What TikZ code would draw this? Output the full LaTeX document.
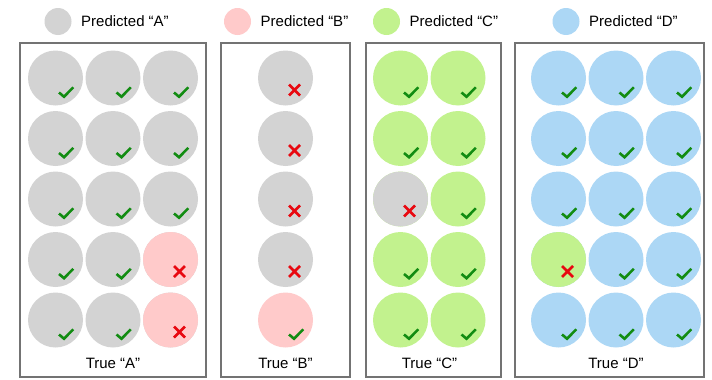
\documentclass[tikz,border=0pt]{standalone}
\usepackage{fontspec}
\setmainfont{Liberation Sans}
\usetikzlibrary{positioning}
\definecolor{predA}{RGB}{211,211,211}
\definecolor{predB}{RGB}{255,202,202}
\definecolor{predC}{RGB}{194,242,142}
\definecolor{predD}{RGB}{172,215,245}
\definecolor{okgreen}{RGB}{18,140,18}
\definecolor{badred}{RGB}{232,8,16}
\tikzset{
  dot/.style={circle,inner sep=0pt,minimum size=55pt},
  legdot/.style={circle,inner sep=0pt,minimum size=27pt},
  truebox/.style={draw=black!55,line width=1.6pt},
  oksign/.style={draw=okgreen,line width=2.6pt},
  badsign/.style={draw=badred,line width=2.6pt},
  caption/.style={font=\fontsize{15}{18}\selectfont}
}
% check or cross at the lower right of a circle
\newcommand{\goodmark}[1]{\draw[oksign] ([shift={(3.5,14.5)}]#1.center)--([shift={(8.5,18.7)}]#1.center)--([shift={(17.8,9.3)}]#1.center);}
\newcommand{\badmark}[1]{\draw[badsign] ([shift={(3.5,6.5)}]#1.center)--([shift={(14.5,17.5)}]#1.center)
  ([shift={(3.5,17.5)}]#1.center)--([shift={(14.5,6.5)}]#1.center);}
\begin{document}
\begin{tikzpicture}[x=1pt,y=-1pt]
	\useasboundingbox (0,0) rectangle (712,380);
	% legend
	\node[legdot,fill=predA] (lA) at (58,21.5) {};
	\node[legdot,fill=predB] (lB) at (237.5,21.5) {};
	\node[legdot,fill=predC] (lC) at (386.5,21.5) {};
	\node[legdot,fill=predD] (lD) at (566,21.5) {};
	\node[caption,right=6pt of lA] (tA) {Predicted “A”};
	\node[caption,right=6pt of lB] (tB) {Predicted “B”};
	\node[caption,right=6pt of lC] (tC) {Predicted “C”};
	\node[caption,right=6pt of lD] (tD) {Predicted “D”};
	% boxes
	\draw[truebox] (20,43) rectangle (206,377);
	\draw[truebox] (221,43) rectangle (350,377);
	\draw[truebox] (366,43) rectangle (501,377);
	\draw[truebox] (515,43) rectangle (704,377);
	% true A
	\foreach \c/\x in {1/55.5,2/113,3/170.5}
		\foreach \r/\y in {1/78,2/138.5,3/199,4/259.5,5/320}
			\node[dot,fill=predA] (a\r\c) at (\x,\y) {};
	\node[dot,fill=predB] (a43) at (170.5,259.5) {};
	\node[dot,fill=predB] (a53) at (170.5,320) {};
	\foreach \n in {a11,a12,a13,a21,a22,a23,a31,a32,a33,a41,a42,a51,a52}
		{\goodmark{\n}}
	\badmark{a43}
	\badmark{a53}
	% true B
	\foreach \r/\y in {1/78,2/138.5,3/199,4/259.5}
		\node[dot,fill=predA] (b\r) at (285.5,\y) {};
	\node[dot,fill=predB] (b5) at (285.5,320) {};
	\foreach \n in {b1,b2,b3,b4}
		{\badmark{\n}}
	\goodmark{b5}
	% true C
	\foreach \c/\x in {1/400.5,2/458}
		\foreach \r/\y in {1/78,2/138.5,3/199,4/259.5,5/320}
			\node[dot,fill=predC] (c\r\c) at (\x,\y) {};
	\node[dot,fill=predA] (c31) at (400.5,199) {};
	\foreach \n in {c11,c12,c21,c22,c32,c41,c42,c51,c52}
		{\goodmark{\n}}
	\badmark{c31}
	% true D
	\foreach \c/\x in {1/558.5,2/616,3/673.5}
		\foreach \r/\y in {1/78,2/138.5,3/199,4/259.5,5/320}
			\node[dot,fill=predD] (d\r\c) at (\x,\y) {};
	\node[dot,fill=predC] (d41) at (558.5,259.5) {};
	\foreach \n in {d11,d12,d13,d21,d22,d23,d31,d32,d33,d42,d43,d51,d52,d53}
		{\goodmark{\n}}
	\badmark{d41}
	% labels
	\node[caption] (trueA) at (113,363) {True “A”};
	\node[caption] (trueB) at (285.5,363) {True “B”};
	\node[caption] (trueC) at (429.5,363) {True “C”};
	\node[caption] (trueD) at (616,363) {True “D”};
\end{tikzpicture}
\end{document}
